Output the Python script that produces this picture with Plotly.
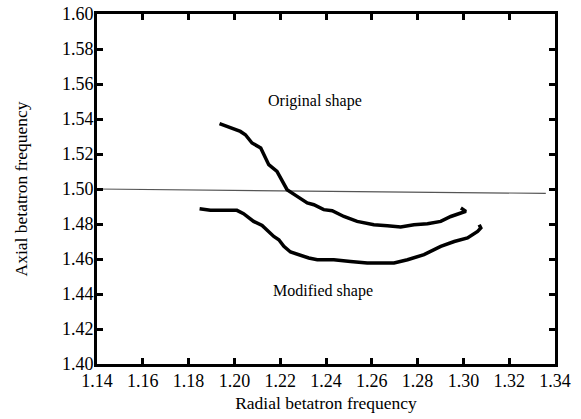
import plotly.graph_objects as go

# Original shape curve
orig_x = [1.1935, 1.1982, 1.2026, 1.2048, 1.2077, 1.2115, 1.2135, 1.2150, 1.2186, 1.2208,
          1.2230, 1.2274, 1.2318, 1.2347, 1.2390, 1.2427, 1.2478, 1.2536, 1.2609, 1.2668,
          1.2726, 1.2784, 1.2843, 1.2901, 1.2945, 1.2989, 1.3011, 1.2989]
orig_y = [1.5373, 1.5349, 1.5329, 1.5310, 1.5263, 1.5234, 1.5177, 1.5139, 1.5101, 1.5043,
          1.4996, 1.4958, 1.4920, 1.4910, 1.4882, 1.4876, 1.4843, 1.4815, 1.4796, 1.4790,
          1.4783, 1.4796, 1.4802, 1.4815, 1.4843, 1.4863, 1.4872, 1.4891]

# Modified shape curve
mod_x = [1.1848, 1.1895, 1.1953, 1.2011, 1.2040, 1.2070, 1.2084, 1.2121, 1.2150, 1.2172,
         1.2194, 1.2216, 1.2245, 1.2289, 1.2325, 1.2362, 1.2434, 1.2507, 1.2580, 1.2697,
         1.2756, 1.2828, 1.2901, 1.2960, 1.3018, 1.3062, 1.3076, 1.3069]
mod_y = [1.4887, 1.4878, 1.4878, 1.4878, 1.4859, 1.4830, 1.4815, 1.4792, 1.4758, 1.4729,
         1.4710, 1.4672, 1.4640, 1.4621, 1.4606, 1.4596, 1.4596, 1.4586, 1.4577, 1.4577,
         1.4596, 1.4625, 1.4672, 1.4700, 1.4720, 1.4758, 1.4777, 1.4796]

# Reference line (resonance at 1.50)
ref_x = [1.14, 1.336]
ref_y = [1.50, 1.4975]

labels = ["Original shape", "Modified shape"]
label_x = [1.2354, 1.2385]
label_y = [1.5505, 1.4419]

FONT = "Liberation Serif, Times New Roman, serif"

fig = go.Figure()
fig.add_trace(go.Scatter(x=ref_x, y=ref_y, mode="lines",
                         line=dict(color="#555555", width=1.2), showlegend=False))
fig.add_trace(go.Scatter(x=orig_x, y=orig_y, mode="lines", name=labels[0],
                         line=dict(color="black", width=3.5), showlegend=False))
fig.add_trace(go.Scatter(x=mod_x, y=mod_y, mode="lines", name=labels[1],
                         line=dict(color="black", width=3.5), showlegend=False))

for t, x, y in zip(labels, label_x, label_y):
    fig.add_annotation(x=x, y=y, text=t, showarrow=False,
                       font=dict(family=FONT, size=16, color="black"))

axis_common = dict(showline=True, linecolor="black", linewidth=3, mirror="ticks",
                   ticks="inside", ticklen=6, tickwidth=3, tickcolor="black",
                   showgrid=False, zeroline=False, automargin=False,
                   ticklabeloverflow="allow",
                   tickfont=dict(family=FONT, size=18, color="black"),
                   tickformat=".2f")

fig.update_xaxes(range=[1.14, 1.34], dtick=0.02, tick0=1.14, ticklabelstandoff=-2,
                 title=dict(text="Radial betatron frequency",
                            font=dict(family=FONT, size=17.5, color="black"), standoff=8),
                 **axis_common)
fig.update_yaxes(range=[1.40, 1.60], dtick=0.02, tick0=1.40, ticklabelstandoff=-3,
                 title=dict(text="Axial betatron frequency",
                            font=dict(family=FONT, size=17.5, color="black"), standoff=30),
                 **axis_common)

fig.update_layout(width=581, height=419,
                  margin=dict(l=97, r=26, t=14, b=55),
                  plot_bgcolor="white", paper_bgcolor="white",
                  font=dict(family=FONT, color="black"))

# remove the browser's default 8px body margin so the figure fills the window
fig.write_html("out.html", config={"displayModeBar": False},
               post_script="document.body.style.margin='0';document.body.style.overflow='hidden';")
